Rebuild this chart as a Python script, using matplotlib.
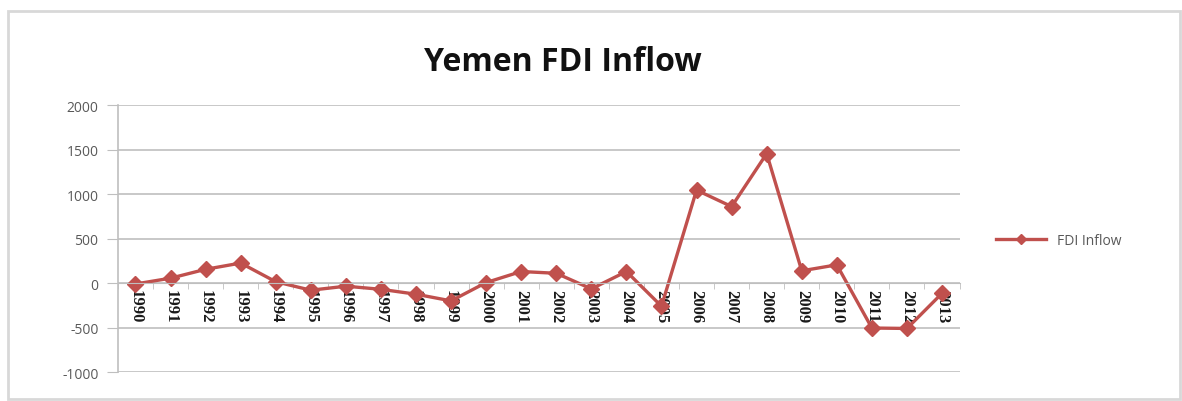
import matplotlib
matplotlib.use("Agg")
import matplotlib.pyplot as plt
from matplotlib.patches import Rectangle
import numpy as np

years = [str(y) for y in range(1990, 2014)]
fdi_inflow = [-10, 55, 155, 225, 15, -80, -35, -70, -125, -200, 6, 130,
              110, -65, 130, -260, 1045, 860, 1455, 138, 205, -505, -510, -115]
y_ticks = [-1000, -500, 0, 500, 1000, 1500, 2000]

line_color = "#C0504D"
grid_color = "#BFBFBF"
label_color = "#595959"

plt.rcParams["font.family"] = ["Open Sans", "DejaVu Sans"]

fig = plt.figure(figsize=(11.82, 4.02), dpi=100)
ax = fig.add_axes([0.0998, 0.072, 0.712, 0.664])

x = np.arange(len(years))
ax.plot(x, fdi_inflow, color=line_color, linewidth=2.4, marker="D",
        markersize=8, markerfacecolor=line_color, markeredgecolor=line_color,
        label="FDI Inflow")

ax.set_xlim(-0.5, len(years) - 0.5)
ax.set_ylim(y_ticks[0], y_ticks[-1])
ax.set_yticks(y_ticks)
ax.set_yticklabels([str(v) for v in y_ticks])
ax.yaxis.grid(True, color=grid_color, linewidth=1.2)
ax.set_axisbelow(True)

# category axis sits on the zero line, labels drawn just below it
ax.spines["bottom"].set_position(("data", 0))
ax.spines["bottom"].set_color(grid_color)
ax.spines["top"].set_visible(False)
ax.spines["right"].set_visible(False)
ax.spines["left"].set_color(grid_color)
ax.spines["left"].set_linewidth(1.2)

ax.set_xticks(x)
ax.set_xticklabels(years, rotation=-90, fontsize=12, color="#1a1a1a",
                   fontweight="bold",
                   fontfamily=["Liberation Serif", "DejaVu Serif"])
ax.tick_params(axis="x", length=0, pad=4)
ax.set_xticks(np.arange(len(years) + 1) - 0.5, minor=True)
ax.tick_params(axis="x", which="minor", length=4, color=grid_color)
ax.tick_params(axis="y", length=8, color=grid_color, labelsize=10,
               labelcolor=label_color, pad=6)

fig.text(0.476, 0.845, "Yemen FDI Inflow", ha="center", va="center",
         fontsize=23, fontweight="bold", color="#111111")

leg = fig.legend(loc="center left", bbox_to_anchor=(0.832, 0.40),
                 frameon=False, fontsize=10, handlelength=3.6,
                 markerscale=0.7)
for t in leg.get_texts():
    t.set_color(label_color)

# chart area frame
fig.patches.append(Rectangle((8 / 1182, 2 / 402), 1172 / 1182, 388 / 402,
                             transform=fig.transFigure, fill=False,
                             edgecolor="#D8D8D8", linewidth=2))

fig.savefig("out.png", dpi=100)
